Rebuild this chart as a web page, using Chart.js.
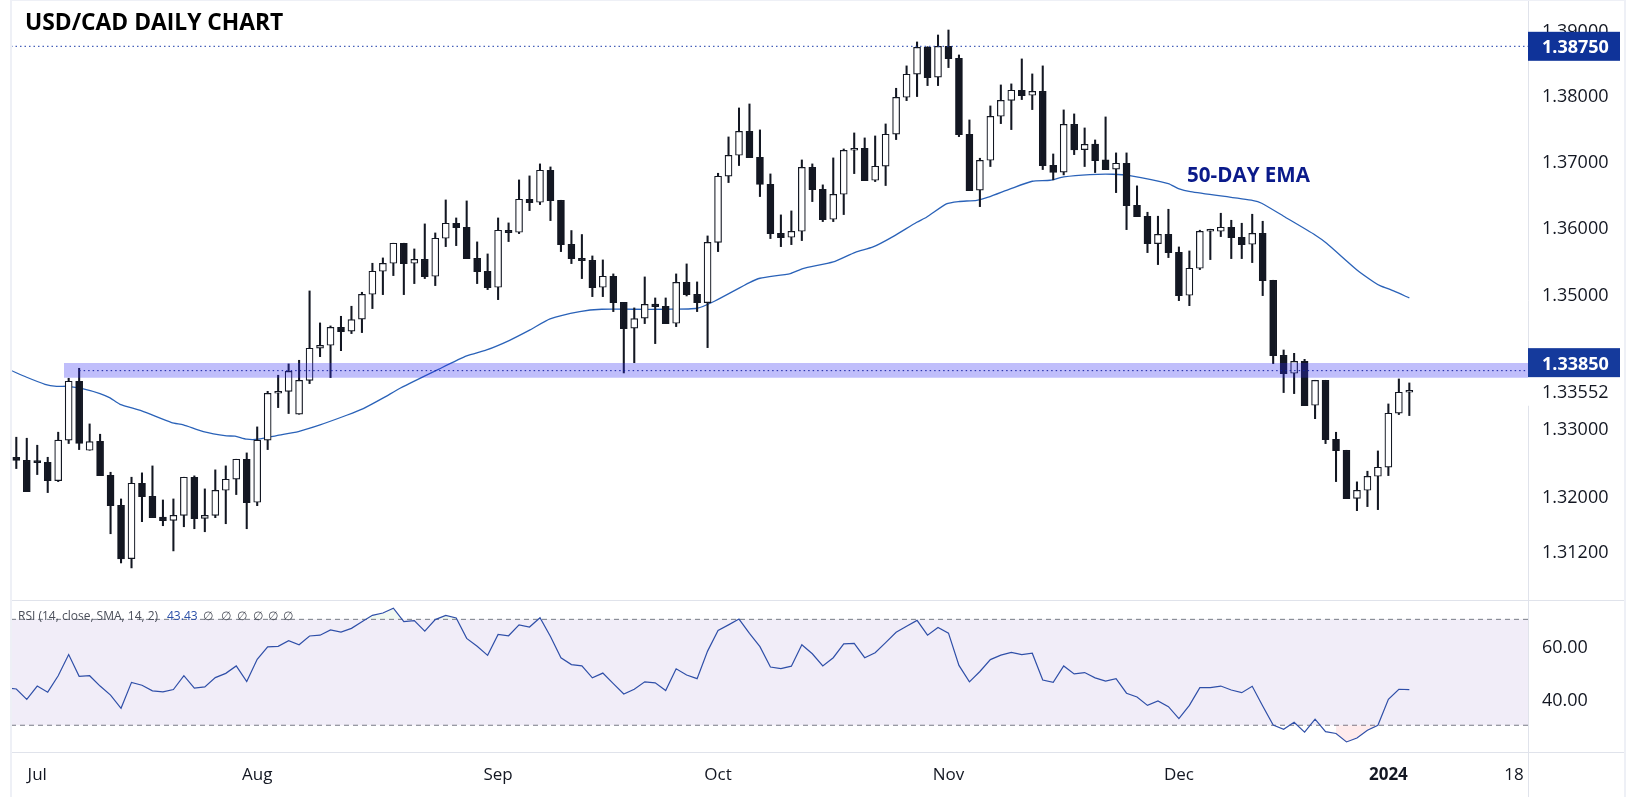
<!DOCTYPE html>
<html>
<head>
<meta charset="utf-8">
<title>USD/CAD Daily Chart</title>
<script src="https://cdn.jsdelivr.net/npm/chart.js@4/dist/chart.umd.js"></script>
<style>
  html, body { margin: 0; padding: 0; background: #fff; overflow: hidden; }
  #page { position: relative; width: 1634px; height: 797px; }
  canvas { position: absolute; left: 0; }
  #precios { top: 0; }
  #rsi { top: 600px; }
  .linea { position: absolute; background: #e0e3eb; }
  .marco { position: absolute; background: #eef0f6; }
</style>
</head>
<body>
<div id="page">
  <canvas id="precios" width="1634" height="600"></canvas>
  <canvas id="rsi" width="1634" height="197"></canvas>
  <div class="marco" style="left:10px;top:0;width:2px;height:797px"></div>
  <div class="marco" style="left:10px;top:0;width:1616px;height:1px"></div>
  <div class="marco" style="left:1624px;top:0;width:2px;height:797px"></div>
  <div class="linea" style="left:12px;top:600px;width:1612px;height:1px"></div>
  <div class="linea" style="left:12px;top:752px;width:1612px;height:1px"></div>
  <div class="linea" style="left:1528px;top:752px;width:1px;height:45px"></div>
</div>
<script>
// Velas diarias
const openValues = [
  1.32571,1.32527,1.32498,1.32498,1.32229,1.32822,1.33693,1.32674,1.32807,1.32307,
  1.31867,1.31090,1.32190,1.31999,1.31696,1.31647,1.31721,1.32278,1.31677,1.31721,
  1.32087,1.32249,1.32542,1.31911,1.32822,1.33515,1.33544,1.33205,1.33707,1.34183,
  1.34227,1.34495,1.34436,1.34615,1.34988,1.35333,1.35453,1.35754,1.35453,1.35513,
  1.35258,1.35829,1.36055,1.35995,1.35528,1.35333,1.35093,1.35950,1.35919,1.36418,
  1.36372,1.36857,1.36402,1.35738,1.35528,1.35498,1.35093,1.35258,1.34868,1.34481,
  1.34630,1.34843,1.34809,1.34555,1.35168,1.34988,1.34863,1.35768,1.36766,1.37084,
  1.37449,1.37054,1.36645,1.35904,1.35844,1.35934,1.36902,1.36569,1.36115,1.36493,
  1.37160,1.37190,1.36705,1.36918,1.37404,1.37968,1.38321,1.38735,1.38275,1.38750,
  1.38566,1.37404,1.36554,1.37008,1.37678,1.37922,1.38076,1.37999,1.38060,1.36933,
  1.36827,1.37556,1.37170,1.37256,1.37013,1.36872,1.36963,1.36327,1.36161,1.35749,
  1.35889,1.35618,1.34973,1.35378,1.35934,1.35934,1.35995,1.35844,1.35738,1.35904,
  1.35198,1.34078,1.33811,1.33988,1.33337,1.33707,1.32836,1.32674,1.31969,1.32087,
  1.32292,1.32425,1.33220,1.33530
];
const highValues = [
  1.32866,1.32851,1.32748,1.32571,1.32940,1.33737,1.33885,1.33062,1.32910,1.32351,
  1.31960,1.32278,1.32342,1.32444,1.31945,1.31960,1.32278,1.32298,1.32107,1.32386,
  1.32444,1.32542,1.32635,1.33018,1.33544,1.33782,1.33950,1.34004,1.35038,1.34560,
  1.34515,1.34659,1.34809,1.35018,1.35453,1.35533,1.35754,1.35754,1.35668,1.36045,
  1.35909,1.36407,1.36135,1.36392,1.35774,1.35593,1.36135,1.36060,1.36710,1.36771,
  1.36953,1.36907,1.36402,1.35945,1.35885,1.35563,1.35503,1.35293,1.34868,1.34784,
  1.35248,1.34933,1.34933,1.35293,1.35443,1.35173,1.35864,1.36811,1.37363,1.37805,
  1.37866,1.37470,1.36801,1.36181,1.36241,1.37013,1.36953,1.36635,1.37044,1.37180,
  1.37424,1.37348,1.37378,1.37561,1.38106,1.38449,1.38817,1.38745,1.38924,1.39001,
  1.38617,1.37622,1.37039,1.37836,1.38157,1.38173,1.38556,1.38326,1.38449,1.37104,
  1.37775,1.37714,1.37500,1.37317,1.37668,1.37120,1.37120,1.36620,1.36221,1.36161,
  1.36266,1.35698,1.35638,1.35950,1.35965,1.36206,1.36100,1.36055,1.36191,1.36085,
  1.35198,1.34157,1.34107,1.34018,1.33707,1.33707,1.32939,1.32674,1.32210,1.32366,
  1.32664,1.33357,1.33727,1.33668
];
const lowValues = [
  1.32405,1.32068,1.32317,1.32053,1.32214,1.32773,1.32684,1.32674,1.32302,1.31452,
  1.31027,1.30955,1.31628,1.31686,1.31569,1.31202,1.31554,1.31525,1.31481,1.31686,
  1.31598,1.32024,1.31525,1.31862,1.32684,1.33303,1.33215,1.33205,1.33658,1.34058,
  1.33747,1.34147,1.34401,1.34416,1.34774,1.34983,1.35268,1.34983,1.35148,1.35223,
  1.35118,1.35703,1.35718,1.35523,1.35148,1.35058,1.34908,1.35779,1.35899,1.36246,
  1.36337,1.36095,1.35628,1.35448,1.35223,1.34953,1.34953,1.34729,1.33816,1.33968,
  1.34550,1.34252,1.34550,1.34505,1.34963,1.34729,1.34192,1.35628,1.36670,1.36928,
  1.37049,1.36458,1.35824,1.35703,1.35733,1.35794,1.36382,1.36080,1.36080,1.36186,
  1.36806,1.36700,1.36685,1.36625,1.37323,1.37917,1.37979,1.38147,1.38147,1.38423,
  1.37368,1.36549,1.36306,1.36913,1.37566,1.37475,1.37933,1.37780,1.36867,1.36711,
  1.36786,1.37094,1.36913,1.36822,1.36867,1.36518,1.35959,1.36155,1.35613,1.35433,
  1.35538,1.34893,1.34818,1.35358,1.35508,1.35854,1.35523,1.35523,1.35463,1.34968,
  1.33954,1.33525,1.33510,1.33332,1.33139,1.32772,1.32214,1.31965,1.31789,1.31848,
  1.31804,1.32302,1.33200,1.33185
];
const closeValues = [
  1.32523,1.32068,1.32493,1.32229,1.32822,1.33693,1.32773,1.32802,1.32302,1.31862,
  1.31085,1.32190,1.31994,1.31686,1.31642,1.31721,1.32278,1.31672,1.31721,1.32087,
  1.32249,1.32542,1.31906,1.32822,1.33515,1.33544,1.33841,1.33707,1.34183,1.34227,
  1.34495,1.34431,1.34610,1.34988,1.35333,1.35453,1.35754,1.35448,1.35513,1.35253,
  1.35829,1.36055,1.35990,1.35523,1.35328,1.35088,1.35950,1.35914,1.36418,1.36367,
  1.36857,1.36397,1.35733,1.35523,1.35493,1.35088,1.35258,1.34863,1.34476,1.34625,
  1.34838,1.34804,1.34550,1.35168,1.34983,1.34863,1.35768,1.36766,1.37084,1.37449,
  1.37049,1.36640,1.35899,1.35839,1.35934,1.36902,1.36564,1.36110,1.36493,1.37160,
  1.37190,1.36700,1.36918,1.37404,1.37968,1.38321,1.38735,1.38270,1.38750,1.38561,
  1.37399,1.36549,1.37008,1.37678,1.37922,1.38076,1.37994,1.38060,1.36928,1.36822,
  1.37556,1.37165,1.37251,1.37003,1.36867,1.36963,1.36322,1.36155,1.35749,1.35889,
  1.35613,1.34968,1.35378,1.35934,1.35940,1.35995,1.35839,1.35733,1.35904,1.35193,
  1.34073,1.33806,1.33988,1.33332,1.33707,1.32831,1.32669,1.31965,1.32087,1.32292,
  1.32425,1.33220,1.33530,1.33552
];

// Media exponencial de 50 dias: puntos (posicion de vela, precio)
const emaIndex = [
  -0.54,0.99,2.74,3.85,4.97,6.40,7.99,8.95,9.90,11.97,14.83,15.95,17.86,20.08,20.88,22.0,23.11,24.86,
  26.93,29.0,31.54,33.13,35.04,36.64,40.3,43.0,44.9,47.1,49.05,50.96,53.8,55.9,58.9,62.1,65.0,66.7,
  70.0,71.0,73.9,75.1,78.0,80.1,81.8,83.7,85.97,86.9,88.8,89.95,91.7,92.8,94.9,97.0,98.7,100.0,102.5,
  104.7,106.3,109.99,110.95,112.1,118.1,118.9,121.0,124.0,125.1,128.0,129.6,130.2,131.5,133
];
const emaValues = [
  1.33856,1.33752,1.33648,1.33618,1.33618,1.33579,1.33510,1.33446,1.33352,1.33254,1.33082,1.33048,1.32950,1.32886,1.32881,1.32837,1.32837,1.32891,
  1.32950,1.33048,1.33190,1.33288,1.33446,1.33589,1.33869,1.34068,1.34157,1.34301,1.34456,1.34620,1.34729,1.34764,1.34764,1.34764,1.34779,1.34888,
  1.35163,1.35228,1.35298,1.35373,1.35473,1.35618,1.35698,1.35854,1.36070,1.36145,1.36347,1.36382,1.36402,1.36448,1.36574,1.36690,1.36705,1.36756,1.36791,
  1.36796,1.36776,1.36655,1.36579,1.36533,1.36397,1.36357,1.36161,1.35879,1.35754,1.35353,1.35173,1.35118,1.35038,1.34933
];

// RSI(14): el primer valor es la vela anterior, fuera del grafico
const rsiValues = [
  44.1,
  43.7,39.8,44.8,42.5,48.7,56.7,48.5,48.7,44.8,41.4,
  36.4,46.2,45.1,43.0,42.6,43.5,48.7,44.0,44.5,48.0,
  49.6,52.4,46.5,54.9,59.6,59.8,61.9,60.4,63.7,64.0,
  66.0,65.2,66.6,69.1,71.5,72.4,74.2,69.1,69.5,65.5,
  69.9,71.5,70.5,62.8,59.8,56.4,64.3,63.8,67.9,67.1,
  70.6,63.5,55.5,52.9,52.4,47.9,49.7,45.7,41.8,43.6,
  46.4,46.0,43.1,51.3,49.0,47.6,58.0,65.8,67.9,70.1,
  64.7,59.7,52.0,51.4,52.3,60.4,57.0,52.4,55.5,60.7,
  60.9,55.5,57.4,61.2,65.1,67.4,69.6,64.0,66.9,64.8,
  52.6,46.4,50.3,54.8,56.5,57.5,56.7,57.2,47.1,46.2,
  52.4,49.4,49.9,47.9,46.7,47.6,42.1,40.7,37.5,39.2,
  37.0,32.5,37.5,44.2,44.2,44.8,43.3,42.3,44.7,37.3,
  30.1,28.5,31.1,27.4,32.3,27.6,26.9,23.7,25.2,28.1,
  30.0,39.8,43.6,43.43
];

// Eje de tiempo (posicion de vela y texto)
const timeTickIndex = [2, 23, 46, 67, 89, 111, 131, 143];
const timeTickLabels = ['Jul', 'Aug', 'Sep', 'Oct', 'Nov', 'Dec', '2024', '18'];

const priceTicks = [1.39, 1.38, 1.37, 1.36, 1.35, 1.33, 1.32, 1.312];
const rsiTicks = [60, 40];

const resistanceHigh = 1.3875;
const supportLevel = 1.3385;
const zoneTop = 1.33964;
const zoneBottom = 1.33746;
const lastPrice = 1.33552;
const rsiUpper = 70;
const rsiLower = 30;

const xMin = -0.506;
const xMax = 144.33;
const priceMin = 1.3049;
const priceMax = 1.39464;
const rsiMin = 19.9;
const rsiMax = 77.3;

const FUENTE = '"Open Sans", sans-serif';
const OSCURO = '#131722';

// Ancho fijo de la columna de precios y sin margen extra arriba y abajo
function anchoEje(axis) {
  axis.width = 106;
  axis.paddingTop = 0;
  axis.paddingBottom = 0;
}

function datosVelas() {
  let mechas = [], cuerpos = [], rellenos = [];
  for (let i = 0; i < openValues.length; i++) {
    mechas.push({x: i, y: [lowValues[i], highValues[i]]});
    cuerpos.push({x: i, y: [Math.min(openValues[i], closeValues[i]), Math.max(openValues[i], closeValues[i])]});
    rellenos.push(closeValues[i] < openValues[i] ? OSCURO : '#ffffff');
  }
  return {mechas, cuerpos, rellenos};
}

// Las etiquetas del eje van unos pixeles por debajo del centro que da la fuente
function dibujarTicks(ctx, axis, decimales) {
  ctx.font = '18px ' + FUENTE;
  ctx.fillStyle = OSCURO;
  ctx.textAlign = 'left';
  axis.ticks.forEach(t => ctx.fillText(t.value.toFixed(decimales), 1542, axis.getPixelForValue(t.value) + 2));
}

// Etiquetas de precio y textos sueltos del panel superior
const textosPrecio = {
  id: 'textosPrecio',
  afterDraw(chart) {
    const ctx = chart.ctx;
    const y = chart.scales.y;
    ctx.save();
    ctx.textBaseline = 'middle';

    dibujarTicks(ctx, y, 5);

    ctx.font = 'bold 22.8px ' + FUENTE;
    ctx.fillStyle = '#000000';
    ctx.textAlign = 'left';
    ctx.fillText('USD/CAD DAILY CHART', 25, 24);

    ctx.font = 'bold 20.6px ' + FUENTE;
    ctx.fillStyle = '#0a1a8a';
    ctx.fillText('50-DAY EMA', 1187, 176);

    const caja = (valor, centro, fondo, color) => {
      ctx.fillStyle = fondo;
      ctx.fillRect(1528, centro - 14.5, 92, 29);
      ctx.fillStyle = color;
      ctx.font = (fondo === '#ffffff' ? '' : 'bold ') + '18px ' + FUENTE;
      ctx.textAlign = 'left';
      ctx.fillText(valor.toFixed(5), 1542, centro + 2);
    };
    caja(lastPrice, y.getPixelForValue(lastPrice) + 0.5, '#ffffff', OSCURO);
    caja(resistanceHigh, y.getPixelForValue(resistanceHigh), '#0f3399', '#ffffff');
    caja(supportLevel, y.getPixelForValue(supportLevel) - 8, '#153a9c', '#ffffff');
    ctx.restore();
  }
};

// Leyenda del indicador
const textosRsi = {
  id: 'textosRsi',
  afterDraw(chart) {
    const ctx = chart.ctx;
    ctx.save();
    ctx.textBaseline = 'middle';

    dibujarTicks(ctx, chart.scales.y, 2);

    ctx.textAlign = 'left';
    ctx.font = '12px ' + FUENTE;
    ctx.fillStyle = '#4a4e59';
    ctx.fillText('RSI (14, close, SMA, 14, 2)', 18, 17);
    ctx.fillStyle = '#2a4fa8';
    ctx.fillText(rsiValues[rsiValues.length - 1].toFixed(2), 167, 17);
    ctx.fillStyle = '#4a4e59';
    [203, 221, 237, 253, 268, 283].forEach(x => ctx.fillText('∅', x, 17));
    ctx.restore();
  }
};

function cargarPrecios() {
  const velas = datosVelas();
  new Chart(document.getElementById('precios'), {
    type: 'bar',
    data: {
      datasets: [
        {
          type: 'line', label: 'EMA', order: 6,
          data: emaIndex.map((v, i) => ({x: v, y: emaValues[i]})),
          borderColor: '#2a62b8', borderWidth: 1.3, pointRadius: 0, tension: 0.2
        },
        {
          label: 'Mechas', order: 5, grouped: false,
          data: velas.mechas, backgroundColor: OSCURO, barThickness: 1.4
        },
        {
          label: 'Cuerpos', order: 4, grouped: false,
          data: velas.cuerpos, backgroundColor: velas.rellenos, borderColor: OSCURO,
          borderWidth: 1.2, borderSkipped: false, barThickness: 7, minBarLength: 2
        },
        {
          type: 'line', label: 'Zona', order: 2,
          data: [{x: 4.55, y: zoneTop}, {x: xMax, y: zoneTop}],
          borderWidth: 0, pointRadius: 0,
          backgroundColor: 'rgba(45,41,241,0.3)',
          fill: {target: {value: zoneBottom}}
        },
        {
          type: 'line', label: 'Soporte', order: 1,
          data: [{x: 6, y: supportLevel}, {x: xMax, y: supportLevel}],
          borderColor: '#1420a0', borderWidth: 1, borderDash: [1.5, 3], pointRadius: 0
        },
        {
          type: 'line', label: 'Resistencia', order: 1,
          data: [{x: xMin, y: resistanceHigh}, {x: xMax, y: resistanceHigh}],
          borderColor: '#1a3aa8', borderWidth: 1, borderDash: [1.5, 3], pointRadius: 0
        }
      ]
    },
    options: {
      responsive: false, animation: false, devicePixelRatio: 1,
      layout: {autoPadding: false, padding: {left: 11, top: 0, bottom: 0, right: 0}},
      plugins: {legend: {display: false}, tooltip: {enabled: false}},
      scales: {
        x: {type: 'linear', offset: false, min: xMin, max: xMax, display: false},
        y: {
          type: 'logarithmic', position: 'right', min: priceMin, max: priceMax,
          grid: {display: false},
          border: {color: '#e0e3eb'},
          afterFit: anchoEje,
          afterBuildTicks(axis) { axis.ticks = priceTicks.map(v => ({value: v})); },
          ticks: {display: false}
        }
      }
    },
    plugins: [textosPrecio]
  });
}

function cargarRsi() {
  const puntos = rsiValues.map((v, i) => ({x: i - 1, y: v}));
  const nivel = (v) => [{x: xMin, y: v}, {x: xMax, y: v}];
  new Chart(document.getElementById('rsi'), {
    type: 'line',
    data: {
      datasets: [
        {
          label: 'Banda', data: nivel(rsiUpper), order: 5,
          borderColor: '#787b86', borderWidth: 1, borderDash: [5, 4], pointRadius: 0,
          backgroundColor: 'rgba(126,87,194,0.11)', fill: {target: {value: rsiLower}}
        },
        {
          label: 'Inferior', data: nivel(rsiLower), order: 4,
          borderColor: '#787b86', borderWidth: 1, borderDash: [5, 4], pointRadius: 0
        },
        {
          label: 'Sobreventa', data: puntos.filter(p => p.x >= 126 && p.x <= 130), order: 3,
          borderWidth: 0, pointRadius: 0,
          fill: {target: {value: rsiLower}, below: 'rgba(242,54,69,0.1)', above: 'rgba(0,0,0,0)'}
        },
        {
          label: 'Sobrecompra', data: puntos, order: 2,
          borderWidth: 0, pointRadius: 0,
          fill: {target: {value: rsiUpper}, above: 'rgba(76,175,80,0.08)', below: 'rgba(0,0,0,0)'}
        },
        {
          label: 'RSI', data: puntos, order: 1,
          borderColor: '#2f4fa8', borderWidth: 1.2, pointRadius: 0
        }
      ]
    },
    options: {
      responsive: false, animation: false, devicePixelRatio: 1,
      layout: {autoPadding: false, padding: {left: 11, top: 0, bottom: 0, right: 0}},
      plugins: {legend: {display: false}, tooltip: {enabled: false}},
      scales: {
        x: {
          type: 'linear', min: xMin, max: xMax,
          grid: {display: false}, border: {display: false},
          afterFit(axis) {
            axis.height = 45;
            axis.paddingLeft = 0;
            axis.paddingRight = 0;
          },
          afterBuildTicks(axis) { axis.ticks = timeTickIndex.map(v => ({value: v})); },
          ticks: {
            autoSkip: false, maxRotation: 0, padding: 5, color: OSCURO,
            font: ctx => ({family: FUENTE, size: 17, weight: ctx.index === 6 ? 'bold' : 'normal'}),
            callback: v => timeTickLabels[timeTickIndex.indexOf(v)]
          }
        },
        y: {
          position: 'right', min: rsiMin, max: rsiMax,
          grid: {display: false},
          border: {color: '#e0e3eb'},
          afterFit: anchoEje,
          afterBuildTicks(axis) { axis.ticks = rsiTicks.map(v => ({value: v})); },
          ticks: {display: false}
        }
      }
    },
    plugins: [textosRsi]
  });
}

cargarPrecios();
cargarRsi();
</script>
</body>
</html>
